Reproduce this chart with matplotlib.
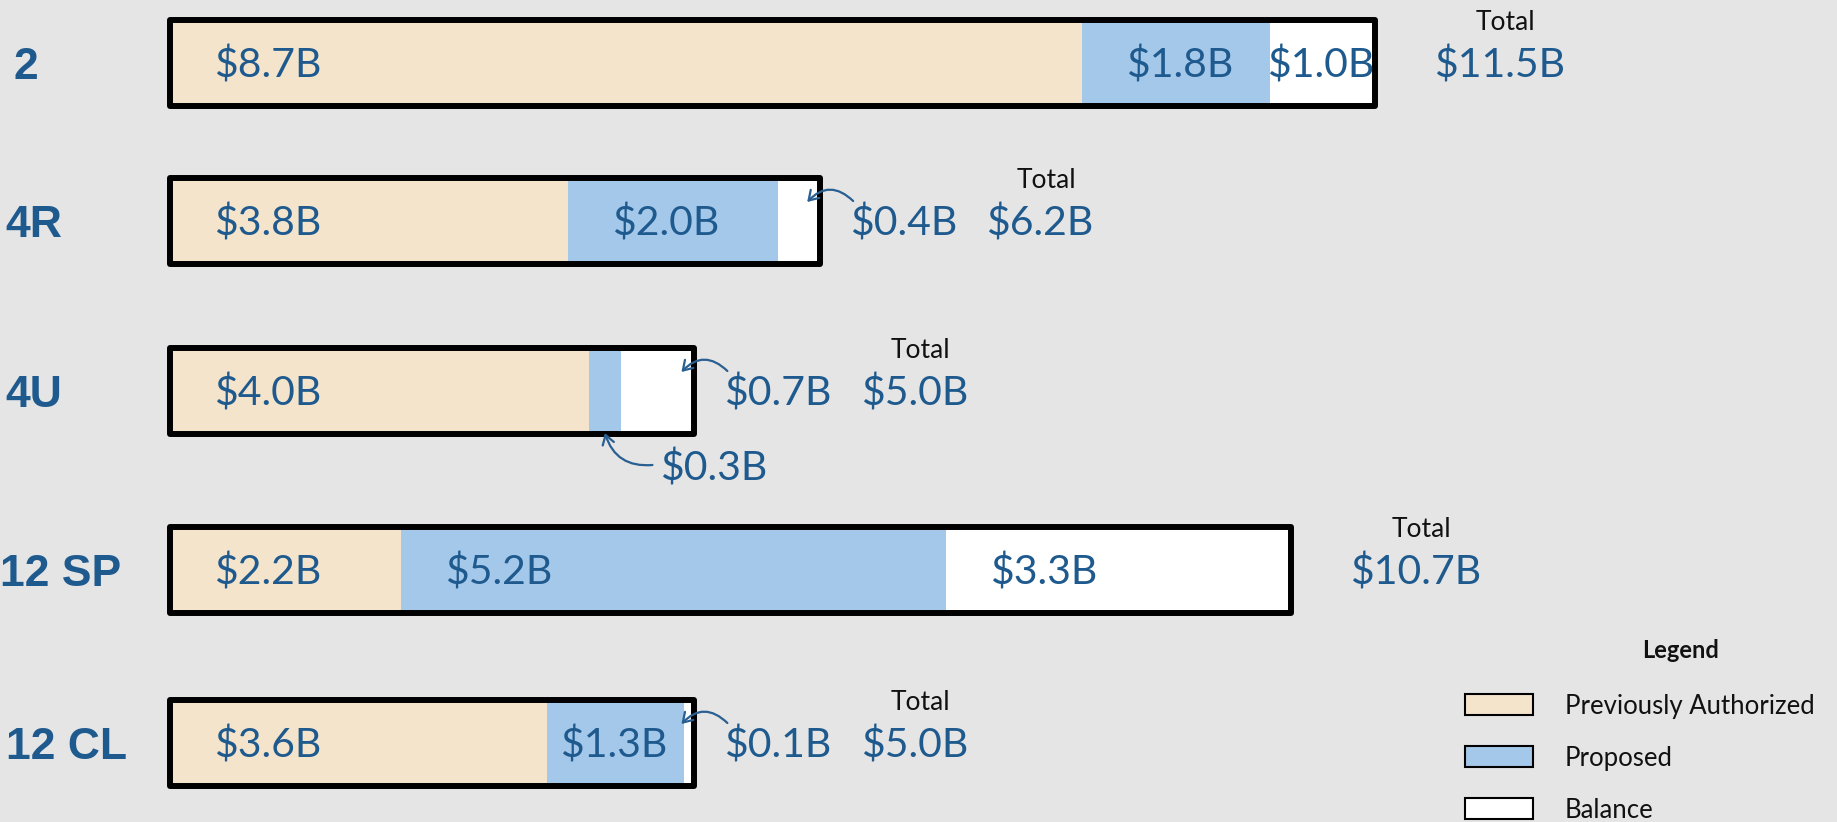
import matplotlib
matplotlib.use("Agg")
import matplotlib.pyplot as plt
from matplotlib.patches import FancyArrowPatch, Rectangle

# ---------------- data ----------------
categories = ["2", "4R", "4U", "12 SP", "12 CL"]
prev_auth = [8.7, 3.8, 4.0, 2.2, 3.6]
proposed = [1.8, 2.0, 0.3, 5.2, 1.3]
balance = [1.0, 0.4, 0.7, 3.3, 0.1]
totals = [11.5, 6.2, 5.0, 10.7, 5.0]
series_names = ["Previously Authorized", "Proposed", "Balance"]

# ---------------- layout ----------------
W, H, DPI = 1837, 822, 100
row_y = [63, 221, 391, 570, 743]      # row centres (pixels from top)
cat_x = [14, 5, 5, 0, 6]              # category label left edges (pixels)
x0_px = 170                          # pixel position of $0
px_per_b = 104.8                     # pixels per $1B
bar_h = 86

colors = ["#F4E4CC", "#A4C8EA", "#FFFFFF"]
bg = "#E5E5E5"
txt_blue = "#1F5A8E"
arrow_col = "#2A5F91"
FS_VAL, FS_TOT, FS_CAT, FS_LEG = 29.5, 19, 32, 18.5

fig = plt.figure(figsize=(W / DPI, H / DPI), dpi=DPI, facecolor=bg)
ax = fig.add_axes([0, 0, 1, 1])
ax.set_xlim(-x0_px / px_per_b, (W - x0_px) / px_per_b)
ax.set_ylim(H, 0)
ax.axis("off")
px = 1 / px_per_b


def xpix(p):
    return (p - x0_px) / px_per_b


def cap_text(x, y, s, fs, family="Lato", ha="left", weight="normal",
             color=txt_blue, cap=0.7165):
    yb = y + 0.5 * cap * fs * DPI / 72
    return ax.text(x, yb, s, fontsize=fs, family=family, ha=ha, va="baseline",
                   fontweight=weight, color=color, zorder=5)


def arrow(tail, head, rad):
    a = FancyArrowPatch(posA=tail, posB=head,
                        arrowstyle="->,head_length=0.55,head_width=0.35",
                        connectionstyle=f"arc3,rad={rad}", mutation_scale=12,
                        color=arrow_col, lw=1.6, shrinkA=0, shrinkB=0, zorder=6)
    ax.add_patch(a)


# ---------------- bars ----------------
series = [prev_auth, proposed, balance]
left = [0.0] * len(categories)
for vals, col in zip(series, colors):
    ax.barh(row_y, vals, left=left, height=bar_h, color=col,
            edgecolor="none", zorder=2)
    left = [l + v for l, v in zip(left, vals)]
outl = ax.barh(row_y, totals, left=0, height=bar_h, facecolor="none",
               edgecolor="black", linewidth=4.3, zorder=3)
for r in outl:
    r.set_joinstyle("round")

# ---------------- labels ----------------
for i, cat in enumerate(categories):
    y = row_y[i]
    cap_text(xpix(cat_x[i]), y, cat, FS_CAT, family="Liberation Sans",
             weight="bold", cap=0.716)
    start = 0.0
    outside_left = None
    for k, vals in enumerate(series):
        v = vals[i]
        lab = f"${v:.1f}B"
        if v >= 1.5:
            cap_text(start + 0.42, y, lab, FS_VAL)
        elif v >= 1.0:
            cap_text(start + v / 2 - 2 * px, y, lab, FS_VAL, ha="center")
        elif k == len(series) - 1:
            tx = totals[i] + 0.29
            cap_text(tx, y, lab, FS_VAL)
            arrow((tx + 3 * px, y - 20), (totals[i] - 0.12, y - 19), 0.5)
            outside_left = tx
        else:
            tx = start + v + 0.38
            ty = y + 75
            cap_text(tx, ty, lab, FS_VAL)
            arrow((tx - 8 * px, ty - 1), (start + v / 2, y + bar_h / 2 - 1), -0.4)
        start += v
    tot_x = outside_left + 1.3 if outside_left is not None else totals[i] + 0.56
    t = cap_text(tot_x, y, f"${totals[i]:.1f}B", FS_VAL)
    yb_tot = (y - 42) + 0.5 * 0.7165 * FS_TOT * DPI / 72
    ax.annotate("Total", xy=(0.5, yb_tot), xycoords=(t, "data"),
                xytext=(4.3, 0), textcoords="offset points", ha="center",
                va="baseline", fontsize=FS_TOT, family="Lato", color="#111111")

# ---------------- legend ----------------
cap_text(xpix(1681), 650, "Legend", 17, weight="bold", ha="center",
         color="#111111")
leg_ys = [694, 746, 798]
for name, col, yy in zip(series_names, colors, leg_ys):
    ax.add_patch(Rectangle((xpix(1465), yy), 68 * px, 21, facecolor=col,
                           edgecolor="black", lw=1.5, zorder=4))
    cap_text(xpix(1565), yy + 10.5, name, FS_LEG, color="#111111")

fig.savefig("out.png", dpi=DPI, facecolor=bg)
